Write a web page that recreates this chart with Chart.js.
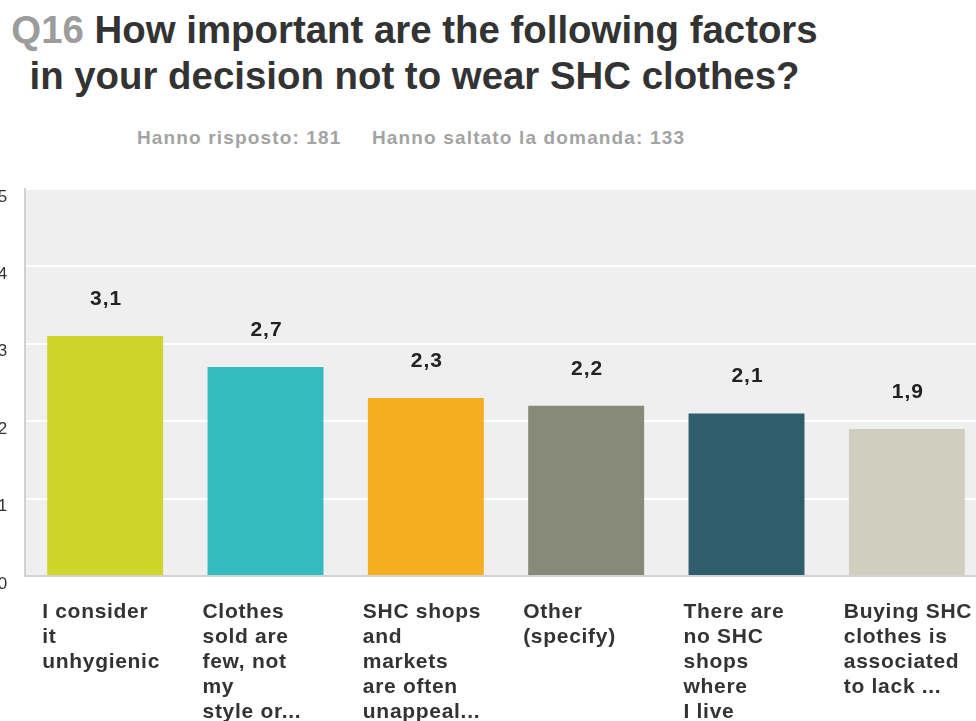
<!DOCTYPE html>
<html>
<head>
<meta charset="utf-8">
<script src="https://cdn.jsdelivr.net/npm/chart.js@4"></script>
<style>
  body { margin: 0; background: #fff; overflow: hidden; width: 976px; height: 721px; position: relative; font-family: "Liberation Sans", Arial, sans-serif; }
  #title { position: absolute; left: 0; top: 7px; width: 829px; text-align: center; font-weight: bold; font-size: 38.4px; line-height: 46px; color: #333; white-space: nowrap; }
  #title .qn { color: #9c9c9c; }
  .sub { position: absolute; top: 127px; font-weight: bold; font-size: 19px; line-height: 21px; letter-spacing: 1.15px; color: #a3a3a3; white-space: nowrap; }
  #wrap { position: absolute; left: -30px; top: 180px; width: 1030px; height: 541px; }
</style>
</head>
<body>
<div id="title"><span class="qn">Q16</span> How important are the following factors<br>in your decision not to wear SHC clothes?</div>
<div class="sub" style="left:137px">Hanno risposto: 181</div>
<div class="sub" style="left:372px">Hanno saltato la domanda: 133</div>
<div id="wrap"><canvas id="myChart"></canvas></div>
<script>
// answer options, weighted averages and bar colours
var factorLabels = [
    ["I consider", "it", "unhygienic"],
    ["Clothes", "sold are", "few, not", "my", "style or..."],
    ["SHC shops", "and", "markets", "are often", "unappeal..."],
    ["Other", "(specify)"],
    ["There are", "no SHC", "shops", "where", "I live"],
    ["Buying SHC", "clothes is", "associated", "to lack ..."]
];
var averages = [3.1, 2.7, 2.3, 2.2, 2.1, 1.9];
var barColors = ["#cfd42a", "#33bcbf", "#f5ae1f", "#888a79", "#2e5e6b", "#d0cebe"];
var yTicks = [0, 1, 2, 3, 4, 5];

var fontFamily = "'Liberation Sans', Arial, sans-serif";

// grey plot background, and the slightly wider tracking used by the axis text
var plotBackground = {
    id: "plotBackground",
    beforeDraw: function(chart) {
        var a = chart.chartArea;
        var ctx = chart.ctx;
        ctx.save();
        ctx.fillStyle = "#efefef";
        ctx.fillRect(a.left, a.top, a.right - a.left, a.bottom - a.top);
        ctx.restore();
        ctx.letterSpacing = "0.7px";
    }
};

// value above each bar, comma as decimal separator
var valueLabels = {
    id: "valueLabels",
    afterDatasetsDraw: function(chart) {
        var ctx = chart.ctx;
        var meta = chart.getDatasetMeta(0);
        ctx.save();
        ctx.font = "bold 21px " + fontFamily;
        ctx.letterSpacing = "1px";
        ctx.fillStyle = "#222";
        ctx.textAlign = "center";
        ctx.textBaseline = "middle";
        meta.data.forEach(function(bar, i) {
            var txt = averages[i].toFixed(1).replace(".", ",");
            ctx.fillText(txt, bar.x + 1, bar.y - 37);
        });
        ctx.restore();
    }
};

var context = document.getElementById("myChart").getContext("2d");
var myChart = new Chart(context, {
    type: "bar",
    data: {
        labels: factorLabels,
        datasets: [{
            data: averages,
            backgroundColor: barColors,
            borderWidth: 0,
            barPercentage: 0.723,
            categoryPercentage: 1
        }]
    },
    options: {
        responsive: true,
        maintainAspectRatio: false,
        animation: false,
        layout: { padding: { left: 0, right: 13, top: 9, bottom: 0 } },
        plugins: {
            legend: { display: false },
            tooltip: { enabled: false }
        },
        scales: {
            x: {
                grid: { display: false, drawTicks: false },
                border: { display: true, color: "#d2d2d2", width: 2 },
                ticks: {
                    align: "start",
                    labelOffset: -63,
                    padding: 24,
                    autoSkip: false,
                    maxRotation: 0,
                    color: "#333",
                    font: { family: fontFamily, size: 21, weight: "bold", lineHeight: "25px" }
                },
                afterFit: function(scale) {
                    scale.height = 145;
                    scale.paddingLeft = 0;
                    scale.paddingRight = 0;
                }
            },
            y: {
                min: yTicks[0],
                max: yTicks[yTicks.length - 1],
                afterBuildTicks: function(scale) {
                    scale.ticks = yTicks.map(function(v) { return { value: v }; });
                },
                grid: { color: "#ffffff", lineWidth: 2, drawTicks: false },
                border: { display: true, color: "#d2d2d2", width: 2 },
                ticks: {
                    padding: 17,
                    labelOffset: 8,
                    color: "#333",
                    font: { family: fontFamily, size: 17 }
                },
                afterFit: function(scale) {
                    scale.width = 55;
                    scale.paddingTop = 0;
                    scale.paddingBottom = 0;
                }
            }
        }
    },
    plugins: [plotBackground, valueLabels]
});
</script>
</body>
</html>
